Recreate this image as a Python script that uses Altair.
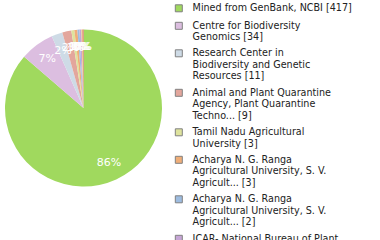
import altair as alt
import pandas as pd

labels = [
    "Mined from GenBank, NCBI [417]",
    "Centre for Biodiversity|Genomics [34]",
    "Research Center in|Biodiversity and Genetic|Resources [11]",
    "Animal and Plant Quarantine|Agency, Plant Quarantine|Techno... [9]",
    "Tamil Nadu Agricultural|University [3]",
    "Acharya N. G. Ranga|Agricultural University, S. V.|Agricult... [3]",
    "Acharya N. G. Ranga|Agricultural University, S. V.|Agricult... [2]",
    "ICAR- National Bureau of Plant|Genetic Resources [2]",
    "University of Agricultural|Sciences [1]",
    "Kerala Agricultural|University [1]",
]
counts = [417, 34, 11, 9, 3, 3, 2, 2, 1, 1]
colors = ["#a0d95e", "#dcbee0", "#cedbe6", "#e3a69c", "#dee39d",
          "#f0ae78", "#9dbce0", "#c6a6d6", "#f2d27a", "#e0605a"]

total = sum(counts)
df = pd.DataFrame({
    "label": labels,
    "count": counts,
    "order": list(range(len(labels))),
    "pct": [f"{round(c / total * 100)}%" for c in counts],
})

base = alt.Chart(df).encode(
    theta=alt.Theta("count:Q", stack=True),
    order=alt.Order("order:Q", sort="ascending"),
)

pie = base.mark_arc(stroke=None).encode(
    color=alt.Color(
        "label:N",
        sort=labels,
        scale=alt.Scale(domain=labels, range=colors),
        legend=alt.Legend(
            title=None,
            orient="none",
            legendX=169,
            legendY=-26,
            symbolType="square",
            symbolSize=49,
            symbolStrokeColor="#808080",
            symbolStrokeWidth=1,
            symbolOpacity=1,
            labelFont="DejaVu Sans",
            labelFontSize=9.6,
            labelColor="#222222",
            labelLimit=300,
            labelOffset=9,
            rowPadding=5.5,
            labelExpr="split(datum.label, '|')",
            symbolLimit=0,
        ),
    )
)

text = base.mark_text(
    radius=61, color="white", font="DejaVu Sans", fontSize=11
).encode(text="pct:N")

chart = (
    (pie + text)
    .properties(
        width=157,
        height=157,
        padding={"left": 5, "top": 29.5, "right": 218, "bottom": 54},
        autosize=alt.AutoSizeParams(type="none"),
    )
    .configure_view(stroke=None)
)

chart.save("out.html", embed_options={"renderer": "svg", "actions": False})
